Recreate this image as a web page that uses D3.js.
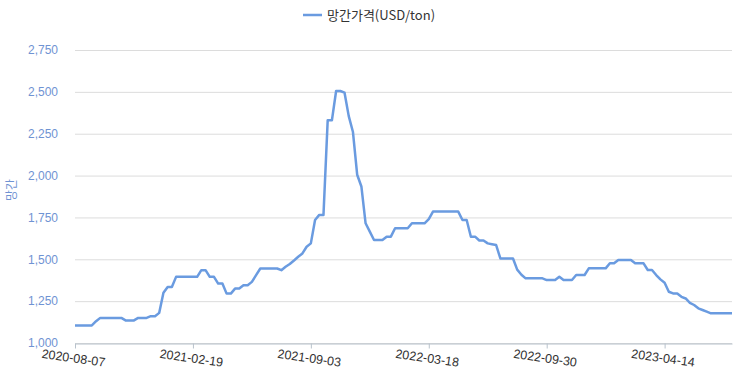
<!DOCTYPE html>
<html>
<head>
<meta charset="utf-8">
<script src="https://cdn.jsdelivr.net/npm/d3@7"></script>
<style>
  body { margin: 0; background: #fff; }
  svg { display: block; font-family: "Noto Sans CJK KR", "Noto Sans", sans-serif; }
</style>
</head>
<body>
<svg id="chart" width="734" height="377"></svg>
<script>
// weekly manganese price, first week 2020-08-07
const startDate = "2020-08-07";
const prices = [
  1105, 1105, 1105, 1105, 1105, 1130, 1150, 1150, 1150, 1150,
  1150, 1150, 1135, 1135, 1135, 1150, 1150, 1150, 1160, 1160,
  1180, 1300, 1335, 1335, 1395, 1395, 1395, 1395, 1395, 1395,
  1435, 1435, 1395, 1395, 1355, 1355, 1295, 1295, 1325, 1325,
  1345, 1345, 1365, 1405, 1445, 1445, 1445, 1445, 1445, 1435,
  1455, 1472, 1493, 1515, 1535, 1575, 1595, 1735, 1765, 1765,
  2330, 2330, 2505, 2505, 2495, 2355, 2260, 2005, 1935, 1715,
  1665, 1615, 1615, 1615, 1635, 1635, 1685, 1685, 1685, 1685,
  1715, 1715, 1715, 1715, 1740, 1785, 1785, 1785, 1785, 1785,
  1785, 1785, 1735, 1735, 1635, 1635, 1612, 1612, 1595, 1590,
  1585, 1505, 1505, 1505, 1505, 1438, 1408, 1386, 1386, 1386,
  1386, 1386, 1376, 1376, 1376, 1396, 1376, 1376, 1376, 1406,
  1406, 1406, 1446, 1446, 1446, 1446, 1446, 1476, 1476, 1496,
  1496, 1496, 1496, 1476, 1476, 1476, 1436, 1436, 1406, 1380,
  1360, 1306, 1296, 1296, 1276, 1266, 1240, 1227, 1207, 1197,
  1187, 1177, 1177, 1177, 1177, 1177, 1177
];
const xTickLabels = ["2020-08-07", "2021-02-19", "2021-09-03", "2022-03-18", "2022-09-30", "2023-04-14"];
const yTicks = [1000, 1250, 1500, 1750, 2000, 2250, 2500, 2750];
const seriesName = "망간가격(USD/ton)";
const yTitle = "망간";

const fmt = d3.timeFormat("%Y-%m-%d");
const first = d3.timeParse("%Y-%m-%d")(startDate);
const dates = prices.map((d, i) => fmt(d3.timeDay.offset(first, i * 7)));

const margin = {top: 50, right: 2, bottom: 34, left: 75};
const width = 734, height = 377;
const svg = d3.select("#chart");

const x = d3.scalePoint()
  .domain(dates)
  .range([margin.left, width - margin.right]);

const y = d3.scaleLinear()
  .domain([1000, 2750])
  .range([height - margin.bottom, margin.top]);

// grid lines
svg.append("g")
  .selectAll("line")
  .data(yTicks)
  .enter().append("line")
    .attr("x1", margin.left)
    .attr("x2", width - margin.right)
    .attr("y1", d => y(d) + 0.5)
    .attr("y2", d => y(d) + 0.5)
    .attr("stroke", "#dcdcdc")
    .attr("stroke-width", 1);

// y axis labels
const yAxis = svg.append("g")
  .attr("transform", `translate(${margin.left},0)`)
  .call(d3.axisLeft(y).tickValues(yTicks).tickSize(0).tickPadding(17).tickFormat(d3.format(",")));
yAxis.select(".domain").remove();
yAxis.selectAll("text")
  .attr("fill", "#6f93d3")
  .style("font-size", "12px");

svg.append("text")
  .attr("transform", "translate(16,190) rotate(-90)")
  .attr("text-anchor", "middle")
  .attr("fill", "#6f93d3")
  .style("font-size", "12px")
  .text(yTitle);

// x axis
const xAxis = svg.append("g")
  .attr("transform", `translate(0,${height - margin.bottom + 0.5})`)
  .call(d3.axisBottom(x).tickValues(xTickLabels).tickSize(5).tickSizeOuter(0));
xAxis.select(".domain").attr("stroke", "#b8c2cc");
xAxis.selectAll(".tick line").attr("stroke", "#b8c2cc");
xAxis.selectAll("text")
  .attr("fill", "#333")
  .style("font-size", "12.5px")
  .attr("text-anchor", "middle")
  .attr("y", 10)
  .attr("transform", "rotate(8)");

// line
svg.append("path")
  .datum(prices)
  .attr("fill", "none")
  .attr("stroke", "#6a9be0")
  .attr("stroke-width", 2.5)
  .attr("stroke-linejoin", "round")
  .attr("d", d3.line()
    .x((d, i) => x(dates[i]))
    .y(d => y(d)));

// legend
const legend = svg.append("g").attr("transform", "translate(303,15)");
legend.append("line")
  .attr("x1", 0).attr("x2", 19)
  .attr("stroke", "#6a9be0")
  .attr("stroke-width", 2.5);
legend.append("text")
  .attr("x", 24)
  .attr("dy", "0.35em")
  .attr("fill", "#333")
  .style("font-size", "13px")
  .text(seriesName);
</script>
</body>
</html>
